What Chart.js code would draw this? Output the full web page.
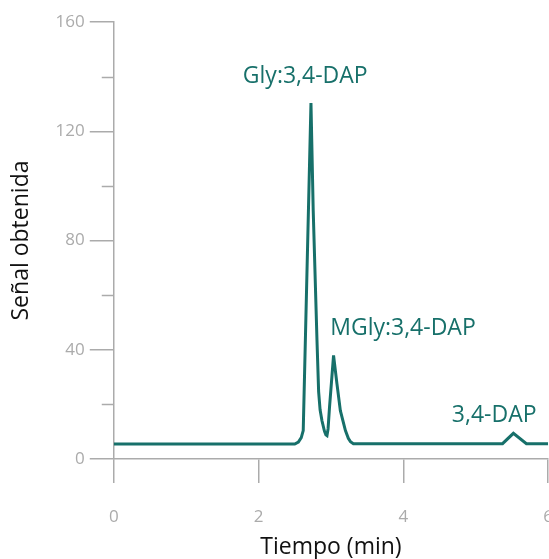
<!DOCTYPE html>
<html lang="es">

<head>
  <meta charset="UTF-8" />
  <title>Cromatograma</title>
  <script src="https://cdn.jsdelivr.net/npm/chart.js"></script>
  <style>
    html, body {
      margin: 0;
      padding: 0;
      background: #fff;
      overflow: hidden;
    }

    .wrap {
      position: relative;
      width: 577px;
      height: 559px;
    }
  </style>
</head>

<body>
  <div class="wrap">
    <canvas id="chart" width="577" height="559"></canvas>
  </div>

  <script>
    // señal del cromatograma (tiempo en min, señal)
    const tiempos = [0, 2.50, 2.55, 2.59, 2.617, 2.724, 2.755, 2.807, 2.83, 2.85, 2.876, 2.91, 2.93, 2.945,
      2.96, 2.98, 3.008, 3.036, 3.083, 3.13, 3.2, 3.24, 3.27, 3.31, 5.37, 5.52, 5.70, 6];
    const senal = [5.5, 5.5, 6.2, 7.8, 10.4, 130.3, 91, 43.5, 24.6, 18, 14, 10.2, 8.9, 8.6,
      11, 18.9, 28.4, 37.9, 27.5, 17.7, 10.4, 7.6, 6.3, 5.6, 5.6, 9.4, 5.6, 5.6];

    const yTicks = [0, 40, 80, 120, 160];

    // etiquetas de los picos
    const picos = ['Gly:3,4-DAP', 'MGly:3,4-DAP', '3,4-DAP'];
    const picosX = [2.645, 2.99, 5.255];
    const picosY = [137.6, 45.5, 13.4];
    const picosAlign = ['center', 'left', 'center'];

    const teal = '#17706a';
    const axisGray = '#ababab';
    const family = "'Open Sans', sans-serif";

    const puntos = tiempos.map((t, i) => ({ x: t, y: senal[i] }));

    // ticks menores del eje y + etiquetas de los picos
    const extras = {
      id: 'extras',
      afterDraw(chart) {
        const { ctx, chartArea, scales } = chart;
        const y = scales.y;
        ctx.save();
        ctx.strokeStyle = axisGray;
        ctx.lineWidth = 1.5;
        y.ticks.forEach(t => {
          if (yTicks.includes(t.value)) return;
          const py = Math.round(y.getPixelForValue(t.value)) + 0.5;
          ctx.beginPath();
          ctx.moveTo(chartArea.left - 12, py);
          ctx.lineTo(chartArea.left, py);
          ctx.stroke();
        });

        ctx.fillStyle = teal;
        ctx.font = "23px " + family;
        ctx.textBaseline = 'alphabetic';
        picos.forEach((txt, i) => {
          ctx.textAlign = picosAlign[i];
          ctx.fillText(txt, scales.x.getPixelForValue(picosX[i]), y.getPixelForValue(picosY[i]));
        });
        ctx.restore();
      }
    };

    new Chart(document.getElementById('chart'), {
      type: 'line',
      data: {
        datasets: [{
          data: puntos,
          borderColor: teal,
          borderWidth: 3,
          pointRadius: 0,
          tension: 0,
          fill: false
        }]
      },
      options: {
        responsive: false,
        animation: false,
        layout: { padding: { top: 22, left: 8, right: 0, bottom: 0 } },
        plugins: {
          legend: { display: false },
          tooltip: { enabled: false }
        },
        scales: {
          x: {
            type: 'linear',
            min: 0,
            max: 6,
            ticks: {
              stepSize: 2,
              maxRotation: 0,
              color: axisGray,
              font: { family, size: 17 },
              padding: 24
            },
            grid: {
              drawOnChartArea: false,
              tickLength: 24,
              color: axisGray,
              lineWidth: 1.5
            },
            border: { color: axisGray, width: 1.5 },
            title: {
              display: true,
              text: 'Tiempo (min)',
              color: '#111',
              font: { family, size: 23 },
              padding: { top: -18, bottom: -2 }
            }
          },
          y: {
            min: 0,
            max: 160,
            ticks: {
              stepSize: 20,
              color: axisGray,
              font: { family, size: 17 },
              padding: 5,
              callback: v => yTicks.includes(v) ? v : ''
            },
            grid: {
              drawOnChartArea: false,
              tickLength: 24,
              color: axisGray,
              lineWidth: 1.5,
              tickColor: c => (c.tick && yTicks.includes(c.tick.value)) ? axisGray : 'rgba(0,0,0,0)'
            },
            border: { color: axisGray, width: 1.5 },
            title: {
              display: true,
              text: 'Señal obtenida',
              color: '#111',
              font: { family, size: 23 },
              padding: { top: 0, bottom: 15 }
            }
          }
        }
      },
      plugins: [extras]
    });
  </script>
</body>

</html>
